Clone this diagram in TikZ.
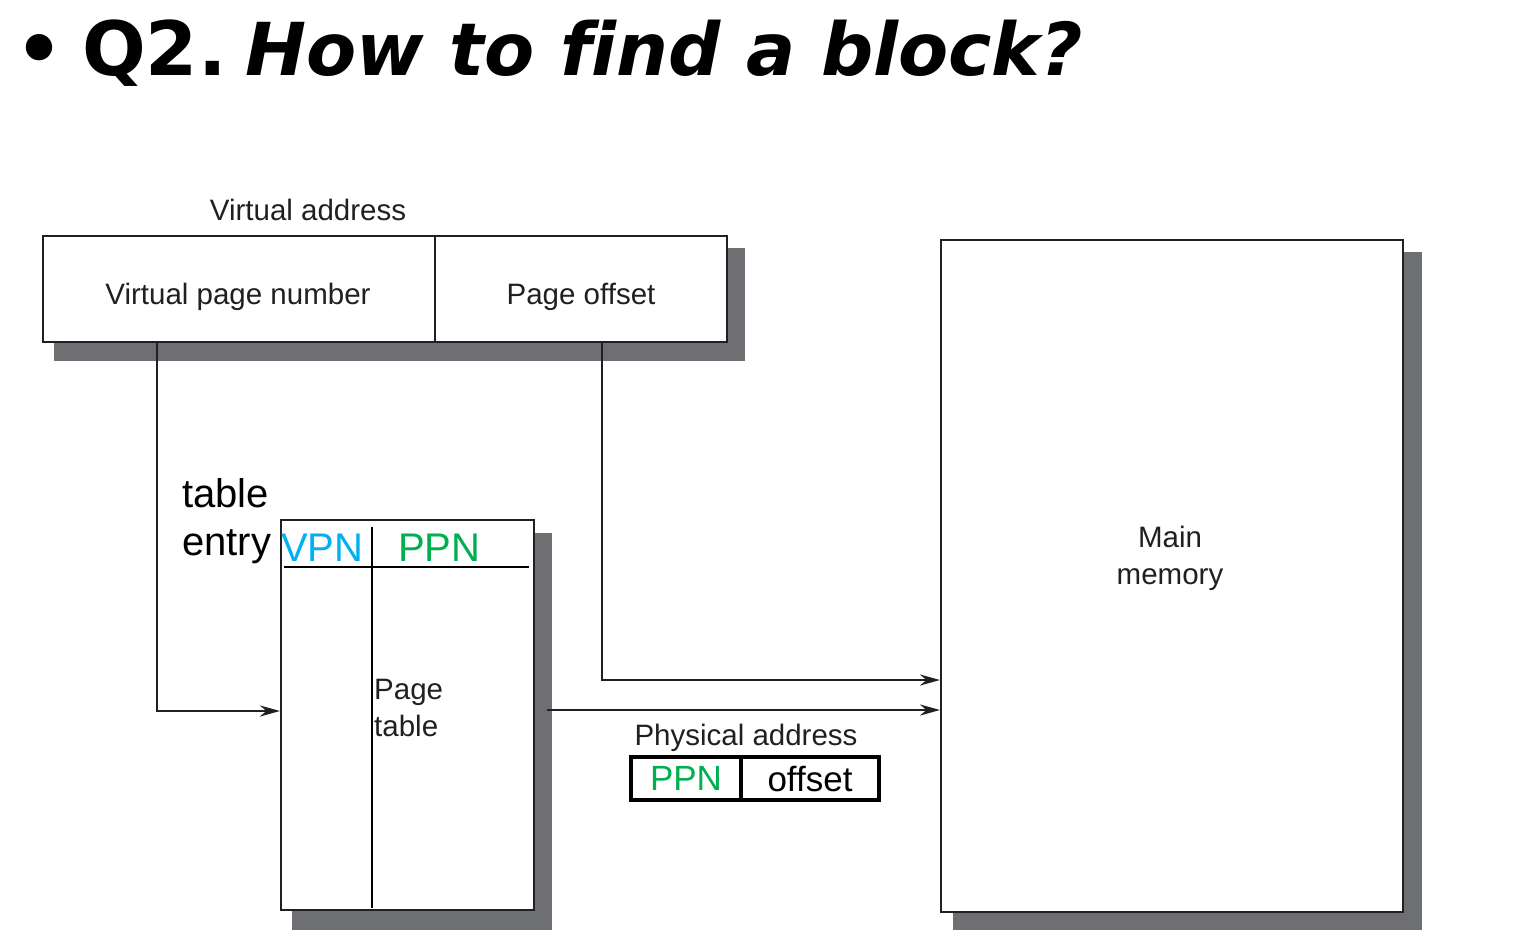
\documentclass[tikz,border=0pt]{standalone}
\usepackage{fontspec}
\setmainfont{Liberation Sans}
\newfontfamily\titlefont[Ligatures=NoCommon]{DejaVu Sans}
\usetikzlibrary{arrows.meta,calc}
\definecolor{shadowc}{RGB}{110,111,115}
\definecolor{linec}{RGB}{35,31,32}
\definecolor{vpnc}{RGB}{0,176,240}
\definecolor{ppnc}{RGB}{0,176,80}
\tikzset{
  box/.style={draw=linec, line width=2.4pt, fill=white, inner sep=0pt, outer sep=0pt, anchor=north west},
  pabox/.style={draw=black, line width=3.5pt, fill=white, inner sep=0pt, outer sep=0pt, anchor=north west,
                minimum height=43pt, font=\fontsize{35}{40}\selectfont},
  shadowfill/.style={fill=shadowc},
  arr/.style={draw=linec, line width=2.8pt, -{Stealth[length=20pt,width=11pt]}},
  lbl/.style={font=\fontsize{29.5}{37}\selectfont, text=linec, inner sep=0pt},
  biglbl/.style={font=\fontsize{40}{48}\selectfont, inner sep=0pt, anchor=base west},
  rule/.style={draw=black, line width=2.8pt},
  titletext/.style={font=\titlefont\bfseries\fontsize{75}{90}\selectfont, inner sep=0pt, anchor=base west}
}
\begin{document}
\begin{tikzpicture}[x=1pt,y=-1pt]
\useasboundingbox (0,0) rectangle (1514,930);

% title
\node[titletext] (bullet) at (15,75) {•};
\node[titletext] (title) at (82,75) {Q2.\hspace{-16pt} {\itshape\fontsize{73}{90}\selectfont How to find a block?}};

% shadows
\fill[shadowfill] (54,248) rectangle (745,361);
\fill[shadowfill] (292,533) rectangle (552,930);
\fill[shadowfill] (953,252) rectangle (1422,930);

% virtual address
\node[lbl, anchor=base] (valbl) at (308,220) {Virtual address};
\node[box, minimum width=392pt, minimum height=106pt] (vpn) at (43,236) {};
\node[box, minimum width=292pt, minimum height=106pt] (off) at (435,236) {};
\node[lbl, anchor=base] (vpntext) at ($(vpn.center)+(-1,15)$) {Virtual page number};
\node[lbl, anchor=base] (offtext) at ($(off.center)+(0,15)$) {Page offset};

% page table
\node[box, minimum width=253pt, minimum height=390pt] (pt) at (281,520) {};
\draw[rule] ($(pt.north west)+(3,47)$) -- ($(pt.north east)+(-5,47)$);
\draw[rule] ($(pt.north west)+(91,7)$) -- ($(pt.south west)+(91,-2)$);
\node[lbl, anchor=north west, align=left] (ptlbl) at (374,679) {Page\\table};
\node[biglbl] (tbl) at (182,507) {table};
\node[biglbl] (entry) at (182,555) {entry};
\node[biglbl, text=vpnc] (vpnh) at (281,561) {VPN};
\node[biglbl, text=ppnc] (ppnh) at (398,561) {PPN};

% main memory
\node[box, minimum width=462pt, minimum height=672pt] (mm) at (941,240) {};
\node[lbl, anchor=north, align=center] (mmlbl) at (1170,526) {Main\\memory};

% physical address
\node[lbl, anchor=base] (palbl) at (746,745) {Physical address};
\node[pabox, minimum width=110pt, text=ppnc] (pappn) at (631,757) {PPN};
\node[pabox, minimum width=138pt] (paoff) at (741,757) {offset};

% connectors
\coordinate (ptout) at ($(pt.north east)+(13,190)$);
\draw[arr] ($(vpn.south west)+(114,0)$) |- ($(pt.north west)+(-1,191)$);
\draw[arr] ($(off.south west)+(167,0)$) |- ($(mm.north west)+(-1,440)$);
\draw[arr] (ptout) -- ($(mm.north west)+(-1,470)$);
\end{tikzpicture}
\end{document}
